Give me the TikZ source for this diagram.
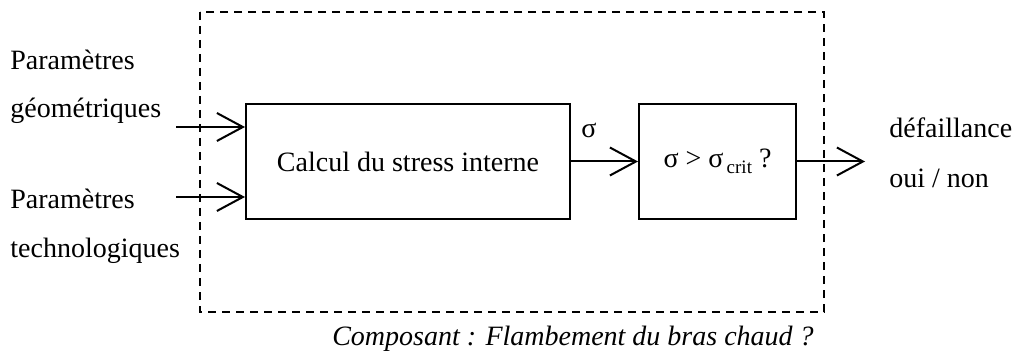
\documentclass[tikz,border=0pt]{standalone}
\usepackage{fontspec}
\setmainfont{Liberation Serif}
\usetikzlibrary{arrows.meta,positioning}

\begin{document}
\begin{tikzpicture}[
    x=0.5pt, y=-0.5pt,
    font=\fontsize{14}{16}\selectfont,
    bloc/.style={draw, line width=1pt, minimum height=57.5pt, align=center, inner sep=0pt},
    label/.style={inner sep=0pt, anchor=base west},
    cadre/.style={line width=0.7pt, dash pattern=on 4pt off 3pt},
    fleche/.style={-{Straight Barb[length=13pt, width=14pt, line width=1pt]}, line width=1pt}
]
\useasboundingbox (0,0) rectangle (1013,353);

% component frame
\draw[cadre] (200,12) rectangle (824,312);

% blocks
\node[bloc, minimum width=162pt] (calcul) at (408,161.5) {Calcul du stress interne};
\node[bloc, minimum width=78.5pt] (test) at (717.5,161.5)
    {σ > σ\raisebox{-3pt}{\fontsize{9.5}{10}\selectfont\,crit} ?};

% inputs
\node[label] (geo1) at (10,70) {Paramètres};
\node[label] (geo2) at (10,118) {géométriques};
\node[label] (tech1) at (10,208) {Paramètres};
\node[label] (tech2) at (10,257) {technologiques};
\coordinate (in1) at (176,127);
\coordinate (in2) at (176,197);
\draw[fleche] (in1) -- (in1 -| calcul.west);
\draw[fleche] (in2) -- (in2 -| calcul.west);

% internal link
\draw[fleche] (calcul.east) -- (test.west);
\node[inner sep=0pt, anchor=base] (sigma) at (589,138) {σ};

% output
\coordinate (out) at (865,161.5);
\draw[fleche] (test.east) -- (out);
\node[label] (def) at (889,138) {défaillance};
\node[label] (ouinon) at (889,188) {oui / non};

% caption
\node[inner sep=0pt, anchor=base, font=\fontsize{14}{16}\selectfont\itshape] (titre) at (573,345)
    {Composant : Flambement du bras chaud ?};

\end{tikzpicture}
\end{document}
